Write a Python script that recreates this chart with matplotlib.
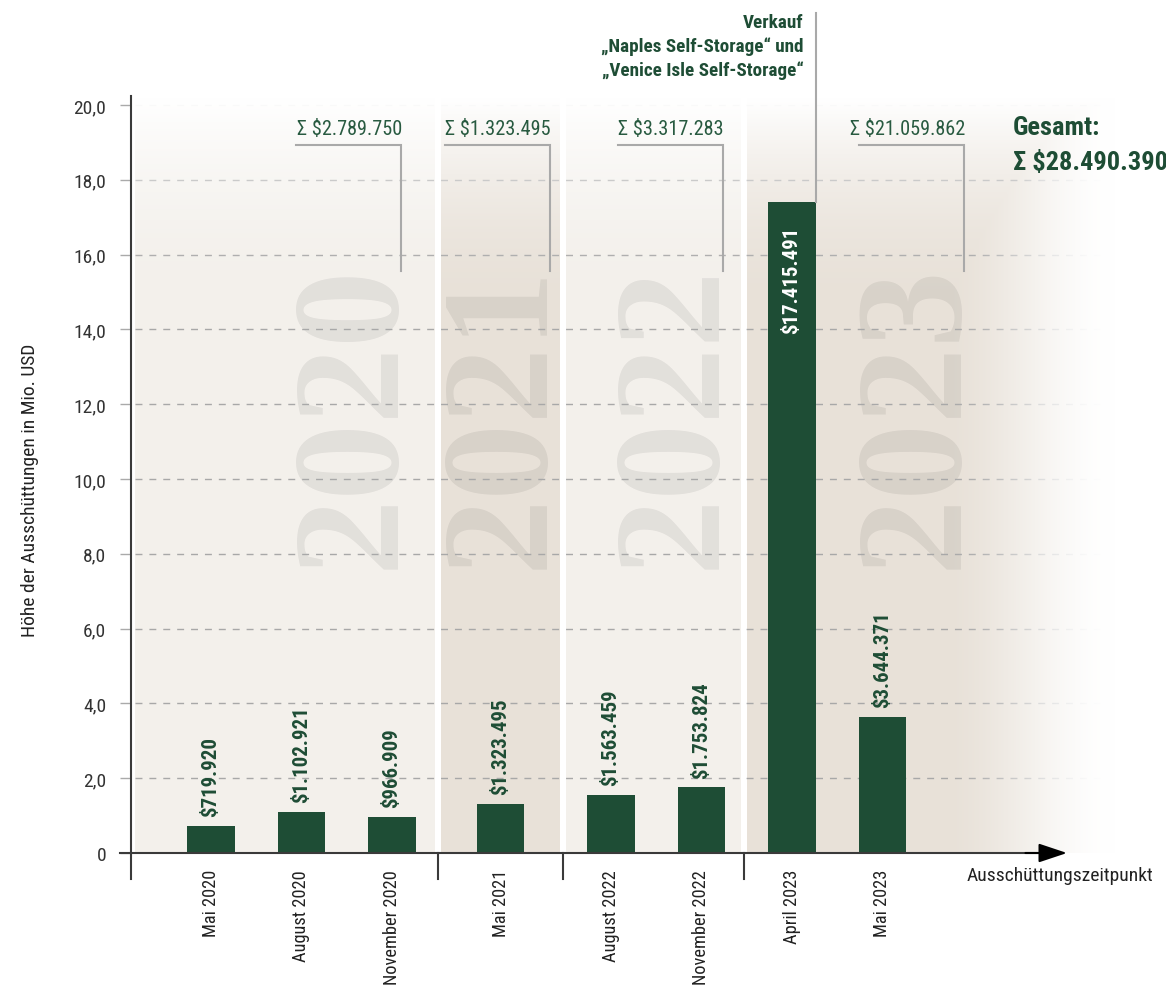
import numpy as np
import matplotlib
matplotlib.use('Agg')
import matplotlib.pyplot as plt
from matplotlib import font_manager

# Ausschüttungen je Zeitpunkt (in USD)
termine = ['Mai 2020', 'August 2020', 'November 2020', 'Mai 2021',
           'August 2022', 'November 2022', 'April 2023', 'Mai 2023']
betraege = [719920, 1102921, 966909, 1323495, 1563459, 1753824, 17415491, 3644371]
jahre = [2020, 2020, 2020, 2021, 2022, 2022, 2023, 2023]
y_ticks = [0, 2, 4, 6, 8, 10, 12, 14, 16, 18, 20]
verkauf_text = 'Verkauf\n„Naples Self-Storage“ und\n„Venice Isle Self-Storage“'

# Layout der Achse (x in Balkenabständen, y in Mio. USD)
x_pos = [0, 1, 2, 3.2, 4.42, 5.42, 6.42, 7.42]
trenner = [2.508, 3.895, 5.89]
band_kanten = [(-0.84, 2.475), (2.541, 3.862), (3.928, 5.857), (5.923, 10.553)]
band_farben = ['#f3f0eb', '#e8e1d8', '#f3f0eb', '#e8e1d8']
klammer_rechts = [2.10, 3.746, 5.657, 8.32]
wasserzeichen_x = [1.60, 3.25, 5.15, 7.83]

GRUEN = '#1e4d35'
GRAU = '#a9a9a9'
XMIN, XMAX, YMAX = -0.884, 10.553, 22.834

# Schmale Schrift wählen, falls vorhanden
vorhanden = {f.name for f in font_manager.fontManager.ttflist}
schrift, faktor = 'Roboto', 0.85
for kandidat in ['Roboto Condensed', 'Liberation Sans Narrow']:
    if kandidat in vorhanden:
        schrift, faktor = kandidat, 1.0
        break
plt.rcParams['font.family'] = [schrift, 'DejaVu Sans']


def fs(pt):
    return pt * faktor


def de_zahl(v):
    return f'{v:,}'.replace(',', '.')


fig = plt.figure(figsize=(11.66, 9.87), dpi=100)
ax = fig.add_axes([131 / 1166, 133 / 987, 1035 / 1166, 854 / 987])
for s in ax.spines.values():
    s.set_visible(False)

# Hintergrundflächen je Jahr
for (x0, x1), farbe in zip(band_kanten, band_farben):
    ax.fill_between([x0, x1], 0, 20.3, color=farbe, lw=0, zorder=0)

# Jahreszahlen als Wasserzeichen
for x, j in zip(wasserzeichen_x, sorted(set(jahre))):
    ax.text(x, 11.70, str(j), rotation=90, ha='center', va='center',
            fontsize=110, family='Liberation Serif', fontweight='bold',
            color='black', alpha=0.07, zorder=1)

# Gitterlinien
for t in y_ticks[1:]:
    ax.plot([-0.84, 10.0], [t, t], color='#a8a8a8', lw=1,
            ls=(0, (5, 5)), zorder=1.5)

# Weißer Verlauf oben und rechts
H, W = 400, 600
xs = np.linspace(XMIN, XMAX, W)
ys = np.linspace(YMAX, 0, H)
xpx = 211 + xs * 90.5
ypx = 854 - ys * 37.4
tv = np.clip((ypx - 100) / 220, 0, 1)
av = (1 - tv) ** 2
th = np.clip((xpx - 940) / 175, 0, 1)
ah = th * th * (3 - 2 * th)
verlauf = np.ones((H, W, 4))
verlauf[..., 3] = np.maximum(av[:, None], ah[None, :])
ax.imshow(verlauf, extent=(XMIN, XMAX, 0, YMAX), aspect='auto',
          interpolation='bilinear', zorder=2)

# Balken
hoehen = np.array(betraege) / 1e6
ax.bar(x_pos, hoehen, width=0.52, color=GRUEN, zorder=3)

for x, h, b in zip(x_pos, hoehen, betraege):
    txt = '$' + de_zahl(b)
    if h > 10:
        ax.annotate(txt, (x, h), xytext=(0, -17), textcoords='offset points',
                    rotation=90, ha='center', va='top', color='white',
                    fontweight='bold', fontsize=fs(15), zorder=4)
    else:
        ax.annotate(txt, (x, h), xytext=(0, 7), textcoords='offset points',
                    rotation=90, ha='center', va='bottom', color=GRUEN,
                    fontweight='bold', fontsize=fs(15), zorder=4)

# Jahressummen mit Klammern
summen = [sum(b for b, j in zip(betraege, jahre) if j == jahr)
          for jahr in sorted(set(jahre))]
for xr, s in zip(klammer_rechts, summen):
    xl = xr - 105 / 90.5
    ax.plot([xl, xr, xr], [18.93, 18.93, 15.56], color=GRAU, lw=1.5,
            zorder=4, solid_joinstyle='miter')
    ax.text(xr + 0.01, 19.38, 'Σ $' + de_zahl(s), ha='right', va='center',
            color='#285a40', fontsize=fs(14.6), zorder=4)

# Hinweis auf den Verkauf
xv = x_pos[6] + 0.26
ax.plot([xv, xv], [hoehen[6], 22.46], color=GRAU, lw=1.5,
        clip_on=False, zorder=4)
ax.text(6.55, 22.45, verkauf_text, ha='right', va='top', multialignment='right',
        linespacing=1.35, fontweight='bold', color=GRUEN, fontsize=fs(13.8),
        zorder=4)

# Gesamtsumme
ax.text(8.862, 19.41, 'Gesamt:', ha='left', va='center', fontweight='bold',
        color=GRUEN, fontsize=fs(19), zorder=4, clip_on=False)
ax.text(8.862, 18.48, 'Σ $' + de_zahl(sum(betraege)), ha='left', va='center',
        fontweight='bold', color=GRUEN, fontsize=fs(19), zorder=4,
        clip_on=False)

# Achsen
ax.plot([XMIN, XMIN], [-0.695, 20.24], color='#3a3a3a', lw=1.5,
        clip_on=False, zorder=5)
ax.plot([-1.006, 9.2], [0, 0], color='#3a3a3a', lw=1.5, clip_on=False, zorder=5)
ax.annotate('', xy=(9.459, 0), xytext=(9.0, 0),
            arrowprops=dict(arrowstyle='-|>,head_length=0.87,head_width=0.29',
                            mutation_scale=20, color='black', lw=1.5,
                            shrinkA=0, shrinkB=0),
            annotation_clip=False, zorder=5)
for t in trenner:
    ax.plot([t, t], [0, -0.695], color='#3a3a3a', lw=1.5, clip_on=False, zorder=5)

ax.set_xlim(XMIN, XMAX)
ax.set_ylim(0, YMAX)

ax.set_yticks(y_ticks, ['0'] + [f'{t:.1f}'.replace('.', ',') for t in y_ticks[1:]])
ax.tick_params(axis='y', length=8, width=1, color='#aaaaaa', pad=10,
               labelsize=fs(14), labelcolor='#333333')
ax.set_xticks(x_pos, termine, rotation=90)
ax.tick_params(axis='x', length=0, pad=11.5, labelsize=fs(13.2),
               labelcolor='#222222')

fig.text(30 / 1166, 1 - 490 / 987, 'Höhe der Ausschüttungen in Mio. USD',
         rotation=90, ha='center', va='center', fontsize=fs(14), color='#222222')
ax.text(9.38, -0.59, 'Ausschüttungszeitpunkt', ha='center', va='center',
        fontsize=fs(14), color='#222222', clip_on=False)

fig.savefig('out.png', dpi=100)
